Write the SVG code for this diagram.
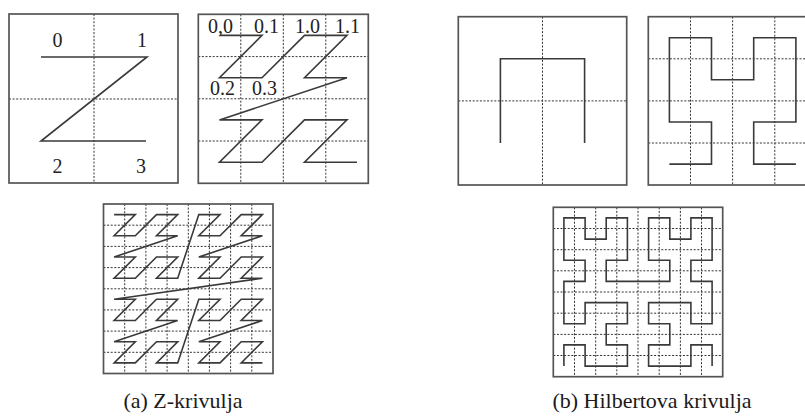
<svg xmlns="http://www.w3.org/2000/svg" width="805" height="418" viewBox="0 0 805 418">
<style>
.box{fill:none;stroke:#555;stroke-width:1.7}
.grid{fill:none;stroke:#333;stroke-width:1;stroke-dasharray:2 1.6}
.curve{fill:none;stroke:#3a3a3a;stroke-width:1.6;stroke-linejoin:miter}
.lbl{font-family:"Liberation Serif","Times New Roman",serif;font-size:20px;fill:#222}
.cap{font-family:"Liberation Serif","Times New Roman",serif;font-size:22px;fill:#1a1a1a}
</style>
<rect width="805" height="418" fill="#fff"/>
<g id="z-order1">
<path class="grid" d="M94,14V183M9,99H178"/>
<rect class="box" x="9" y="14" width="169" height="169"/>
<path class="curve" d="M41,57H147L41,141H146"/>
<text class="lbl" x="57.5" y="47" text-anchor="middle">0</text>
<text class="lbl" x="142" y="47" text-anchor="middle">1</text>
<text class="lbl" x="57.5" y="173" text-anchor="middle">2</text>
<text class="lbl" x="141" y="173" text-anchor="middle">3</text>
</g>
<g id="z-order2">
<path class="grid" d="M240.8,14.3V183.3M283.3,14.3V183.3M325.8,14.3V183.3M198.3,56.6H368.3M198.3,98.8H368.3M198.3,141H368.3"/>
<rect class="box" x="198.3" y="14.3" width="170" height="169"/>
<polyline class="curve" points="219.5,35.4 262,35.4 219.5,77.7 262,77.7 304.5,35.4 347,35.4 304.5,77.7 347,77.7 219.5,119.9 262,119.9 219.5,162.2 262,162.2 304.5,119.9 347,119.9 304.5,162.2 357,162.2"/>
<text class="lbl" x="208" y="33">0,0</text>
<text class="lbl" x="254" y="33">0.1</text>
<text class="lbl" x="295" y="33">1.0</text>
<text class="lbl" x="335" y="33">1.1</text>
<text class="lbl" x="210" y="95">0.2</text>
<text class="lbl" x="252" y="95">0.3</text>
</g>
<g id="z-order3">
<path class="grid" d="M124.7,204V373.5M145.9,204V373.5M167.1,204V373.5M188.3,204V373.5M209.4,204V373.5M230.6,204V373.5M251.8,204V373.5M103.5,225.2H273M103.5,246.4H273M103.5,267.6H273M103.5,288.8H273M103.5,309.9H273M103.5,331.1H273M103.5,352.3H273"/>
<rect class="box" x="103.5" y="204" width="169.5" height="169.5"/>
<polyline class="curve" points="114.1,214.6 135.3,214.6 114.1,235.8 135.3,235.8 156.5,214.6 177.7,214.6 156.5,235.8 177.7,235.8 114.1,257 135.3,257 114.1,278.2 135.3,278.2 156.5,257 177.7,257 156.5,278.2 177.7,278.2 198.8,214.6 220,214.6 198.8,235.8 220,235.8 241.2,214.6 262.4,214.6 241.2,235.8 262.4,235.8 198.8,257 220,257 198.8,278.2 220,278.2 241.2,257 262.4,257 241.2,278.2 262.4,278.2 114.1,299.3 135.3,299.3 114.1,320.5 135.3,320.5 156.5,299.3 177.7,299.3 156.5,320.5 177.7,320.5 114.1,341.7 135.3,341.7 114.1,362.9 135.3,362.9 156.5,341.7 177.7,341.7 156.5,362.9 177.7,362.9 198.8,299.3 220,299.3 198.8,320.5 220,320.5 241.2,299.3 262.4,299.3 241.2,320.5 262.4,320.5 198.8,341.7 220,341.7 198.8,362.9 220,362.9 241.2,341.7 262.4,341.7 241.2,362.9 262.4,362.9"/>
</g>
<g id="hilbert-order1">
<path class="grid" d="M542.5,16.7V185M458.3,100.9H626.7"/>
<rect class="box" x="458.3" y="16.7" width="168.4" height="168.3"/>
<path class="curve" d="M500.4,143V58.8H584.6V143"/>
</g>
<g id="hilbert-order2">
<path class="grid" d="M690.5,16.7V185M732.6,16.7V185M774.8,16.7V185M648.3,58.8H817M648.3,100.9H817M648.3,143H817"/>
<rect class="box" x="648.3" y="16.7" width="168.7" height="168.3"/>
<polyline class="curve" points="669.4,164.1 711.5,164.1 711.5,122 669.4,122 669.4,37.7 711.5,37.7 711.5,79.8 753.7,79.8 753.7,37.7 795.9,37.7 795.9,122 753.7,122 753.7,164.1 795.9,164.1"/>
</g>
<g id="hilbert-order3">
<path class="grid" d="M574.5,207.3V376.7M595.7,207.3V376.7M616.8,207.3V376.7M638,207.3V376.7M659.2,207.3V376.7M680.4,207.3V376.7M701.5,207.3V376.7M553.3,228.5H722.7M553.3,249.7H722.7M553.3,270.8H722.7M553.3,292H722.7M553.3,313.2H722.7M553.3,334.4H722.7M553.3,355.5H722.7"/>
<rect class="box" x="553.3" y="207.3" width="169.4" height="169.4"/>
<polyline class="curve" points="563.9,366.1 563.9,344.9 585.1,344.9 585.1,366.1 606.2,366.1 627.4,366.1 627.4,344.9 606.2,344.9 606.2,323.8 627.4,323.8 627.4,302.6 606.2,302.6 585.1,302.6 585.1,323.8 563.9,323.8 563.9,302.6 563.9,281.4 585.1,281.4 585.1,260.2 563.9,260.2 563.9,239.1 563.9,217.9 585.1,217.9 585.1,239.1 606.2,239.1 606.2,217.9 627.4,217.9 627.4,239.1 627.4,260.2 606.2,260.2 606.2,281.4 627.4,281.4 648.6,281.4 669.8,281.4 669.8,260.2 648.6,260.2 648.6,239.1 648.6,217.9 669.8,217.9 669.8,239.1 690.9,239.1 690.9,217.9 712.1,217.9 712.1,239.1 712.1,260.2 690.9,260.2 690.9,281.4 712.1,281.4 712.1,302.6 712.1,323.8 690.9,323.8 690.9,302.6 669.8,302.6 648.6,302.6 648.6,323.8 669.8,323.8 669.8,344.9 648.6,344.9 648.6,366.1 669.8,366.1 690.9,366.1 690.9,344.9 712.1,344.9 712.1,366.1"/>
</g>
<g id="captions">
<text class="cap" x="183" y="408" text-anchor="middle">(a) Z-krivulja</text>
<text class="cap" x="652" y="408" text-anchor="middle">(b) Hilbertova krivulja</text>
</g>
</svg>
